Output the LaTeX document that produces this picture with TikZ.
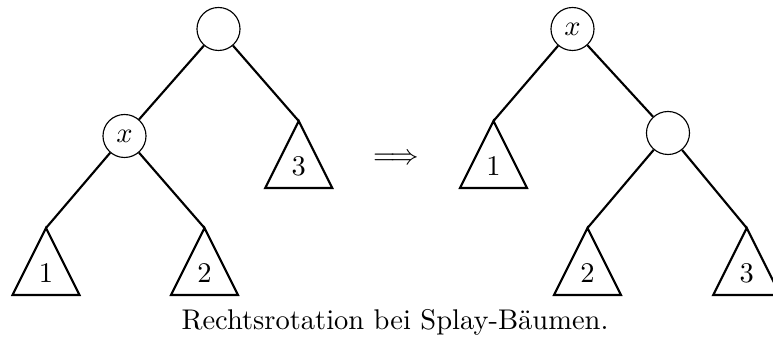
\documentclass[tikz,border=0pt]{standalone}
\usetikzlibrary{calc}
\begin{document}
\begin{tikzpicture}[x=0.351pt,y=-0.351pt,
  knot/.style={circle,draw,line width=0.4pt,minimum size=15.1pt,inner sep=0pt},
  edge/.style={line width=0.75pt},
  tri/.style={line width=0.75pt,line join=miter},
  sublabel/.style={inner sep=0pt}]
\useasboundingbox (0,0) rectangle (773,338);
% left tree
\node[knot] (r) at (218.5,29) {};
\node[knot] (x) at (124.5,136) {$x$};
\coordinate (a1) at (46,228);
\coordinate (a2) at (204.5,228);
\coordinate (a3) at (298.7,121);
\foreach \t in {a1,a2,a3}{\draw[tri] (\t) -- ++(-33.5,67) -- ++(67,0) -- cycle;}
\node[sublabel] (l1) at ($(a1)+(0,45)$) {1};
\node[sublabel] (l2) at ($(a2)+(0,45)$) {2};
\node[sublabel] (l3) at ($(a3)+(0,45)$) {3};
\draw[edge] (r) -- (x);
\draw[edge] (r) -- (a3);
\draw[edge] (x) -- (a1);
\draw[edge] (x) -- (a2);
% arrow
\node[inner sep=0pt] (arr) at (396,159) {$\Longrightarrow$};
% right tree
\node[knot] (X) at (572.5,29) {$x$};
\node[knot] (c) at (668,133) {};
\coordinate (b1) at (493.5,121);
\coordinate (b2) at (587.5,228);
\coordinate (b3) at (746.7,228);
\foreach \t in {b1,b2,b3}{\draw[tri] (\t) -- ++(-33.5,67) -- ++(67,0) -- cycle;}
\node[sublabel] (m1) at ($(b1)+(0,45)$) {1};
\node[sublabel] (m2) at ($(b2)+(0,45)$) {2};
\node[sublabel] (m3) at ($(b3)+(0,45)$) {3};
\draw[edge] (X) -- (b1);
\draw[edge] (X) -- (c);
\draw[edge] (c) -- (b2);
\draw[edge] (c) -- (b3);
% caption
\node[anchor=base,inner sep=0pt] (cap) at (395,330) {Rechtsrotation bei Splay-B\"aumen.};
\end{tikzpicture}
\end{document}
